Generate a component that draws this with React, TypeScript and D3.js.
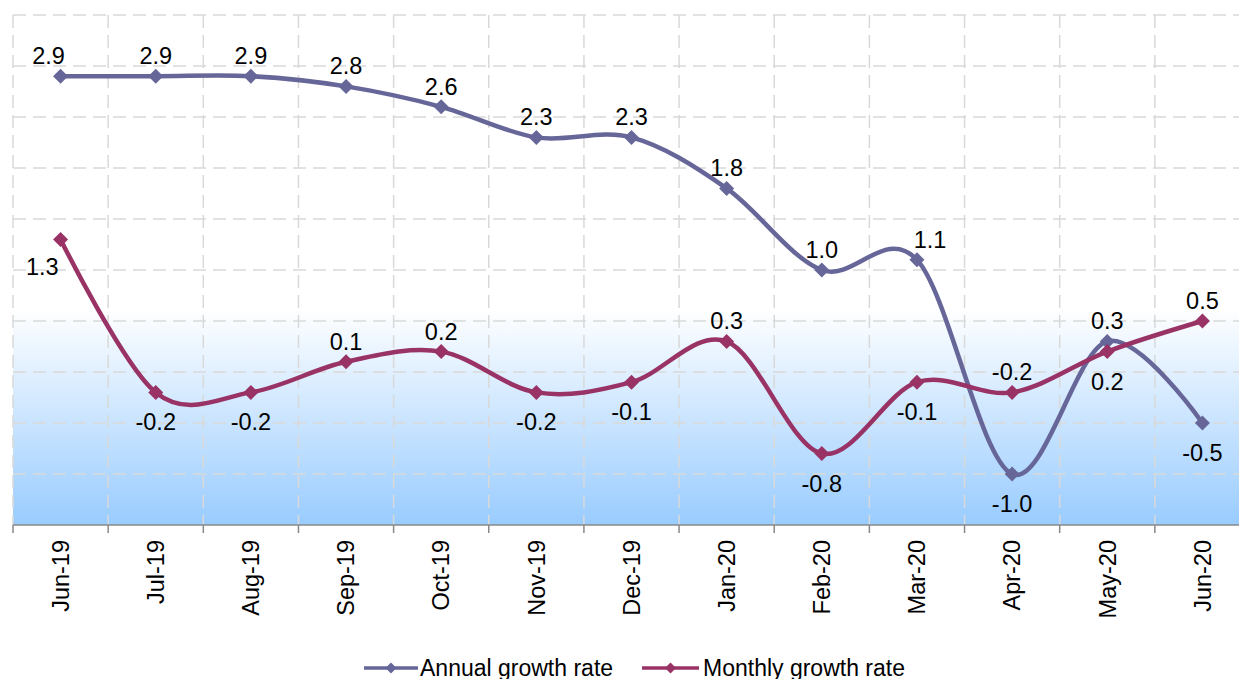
import React from "react";
import * as d3 from "d3";

const categories = ["Jun-19","Jul-19","Aug-19","Sep-19","Oct-19","Nov-19","Dec-19","Jan-20","Feb-20","Mar-20","Apr-20","May-20","Jun-20"];
const annual = [2.9, 2.9, 2.9, 2.8, 2.6, 2.3, 2.3, 1.8, 1.0, 1.1, -1.0, 0.3, -0.5];
const monthly = [1.3, -0.2, -0.2, 0.1, 0.2, -0.2, -0.1, 0.3, -0.8, -0.1, -0.2, 0.2, 0.5];
const annualLabelPos = ["above","above","above","above","above","above","above","above","above","above","below","above","below"];
const monthlyLabelPos = ["left","below","below","above","above","below","below","above","below","below","above","below","above"];
const yTicks = [-1.5, -1.0, -0.5, 0, 0.5, 1.0, 1.5, 2.0, 2.5, 3.0, 3.5];
const seriesNames = ["Annual growth rate", "Monthly growth rate"];

const W = 1239, H = 679;
const FONT = "'Liberation Sans', Arial, sans-serif";
const COLORS = ["#666699", "#993366"];

export default function App() {
  const x = d3.scaleBand<string>().domain(categories).range([13, 1250]);
  const y = d3.scaleLinear().domain([-1.5, 3.5]).range([525, 15]);
  const cx = (c: string) => (x(c) as number) + x.bandwidth() / 2;
  const line = d3.line<number>()
    .x((_, i) => cx(categories[i]))
    .y((v) => y(v))
    .curve(d3.curveCatmullRom.alpha(0));
  const diamond = (s: number) => `M0,${-s}L${s},0L0,${s}L${-s},0Z`;
  const series = [
    { vals: annual, pos: annualLabelPos, color: COLORS[0] },
    { vals: monthly, pos: monthlyLabelPos, color: COLORS[1] },
  ];
  const labelOffset = (pos: string, si: number, i: number) => {
    if (pos === "left") return { dx: -2, dy: 36, anchor: "end" };
    let dx = 0;
    if (si === 0 && i === 0) dx = -12;
    if (si === 0 && i === 9) dx = 13;
    if (pos === "above") return { dx, dy: -12, anchor: "middle" };
    return { dx, dy: 38, anchor: "middle" };
  };
  const [x0, x1] = x.range();
  const gridXs = categories.map((c) => x(c) as number);
  const legend = [
    { lx: 364, len: 54, tx: 420 },
    { lx: 642, len: 57, tx: 703 },
  ];

  return (
    <svg width={W} height={H} style={{ position: "absolute", left: 0, top: 0, background: "#fff" }} fontFamily={FONT}>
      <defs>
        <linearGradient id="bg" x1="0" y1="0" x2="0" y2="1">
          <stop offset="0" stopColor="#ffffff" />
          <stop offset="1" stopColor="#99ccff" />
        </linearGradient>
      </defs>
      <rect x={x0} y={y(0.63)} width={x1 - x0} height={y(-1.5) - y(0.63)} fill="url(#bg)" />
      {yTicks.slice(1).map((t) => (
        <line key={"h" + t} x1={x0} x2={x1} y1={y(t)} y2={y(t)} stroke="#d9d9d9" strokeWidth={1.5} strokeDasharray="13,7" />
      ))}
      {gridXs.map((gx, i) => (
        <line key={"v" + i} x1={gx} x2={gx} y1={y(3.5)} y2={y(-1.5)} stroke="#d9d9d9" strokeWidth={1.5} strokeDasharray="13,7" />
      ))}
      <line x1={x0} x2={x1} y1={y(-1.5)} y2={y(-1.5)} stroke="#888" strokeWidth={1.5} />
      {gridXs.map((gx, i) => (
        <line key={"t" + i} x1={gx} x2={gx} y1={y(-1.5)} y2={y(-1.5) + 8} stroke="#888" strokeWidth={1.5} />
      ))}
      {categories.map((c) => (
        <text key={c} transform={`translate(${cx(c)},540) rotate(-90)`} textAnchor="end" dy="0.35em" fontSize={23.5} fill="#000">{c}</text>
      ))}
      {series.map((s, si) => (
        <g key={"s" + si}>
          <path d={line(s.vals) as string} fill="none" stroke={s.color} strokeWidth={4.5} />
          {s.vals.map((v, i) => (
            <path key={i} d={diamond(7.5)} transform={`translate(${cx(categories[i])},${y(v)})`} fill={s.color} />
          ))}
        </g>
      ))}
      {series.map((s, si) => (
        <g key={"l" + si}>
          {s.vals.map((v, i) => {
            const o = labelOffset(s.pos[i], si, i);
            return (
              <text key={i} x={cx(categories[i]) + o.dx} y={y(v) + o.dy} textAnchor={o.anchor} fontSize={23.5} fill="#000">{v.toFixed(1)}</text>
            );
          })}
        </g>
      ))}
      {seriesNames.map((n, i) => {
        const L = legend[i];
        return (
          <g key={n}>
            <line x1={L.lx} x2={L.lx + L.len} y1={668} y2={668} stroke={COLORS[i]} strokeWidth={3.5} />
            <path d={diamond(5.5)} transform={`translate(${L.lx + L.len / 2},668)`} fill={COLORS[i]} />
            <text x={L.tx} y={676} fontSize={23} fill="#000">{n}</text>
          </g>
        );
      })}
    </svg>
  );
}
